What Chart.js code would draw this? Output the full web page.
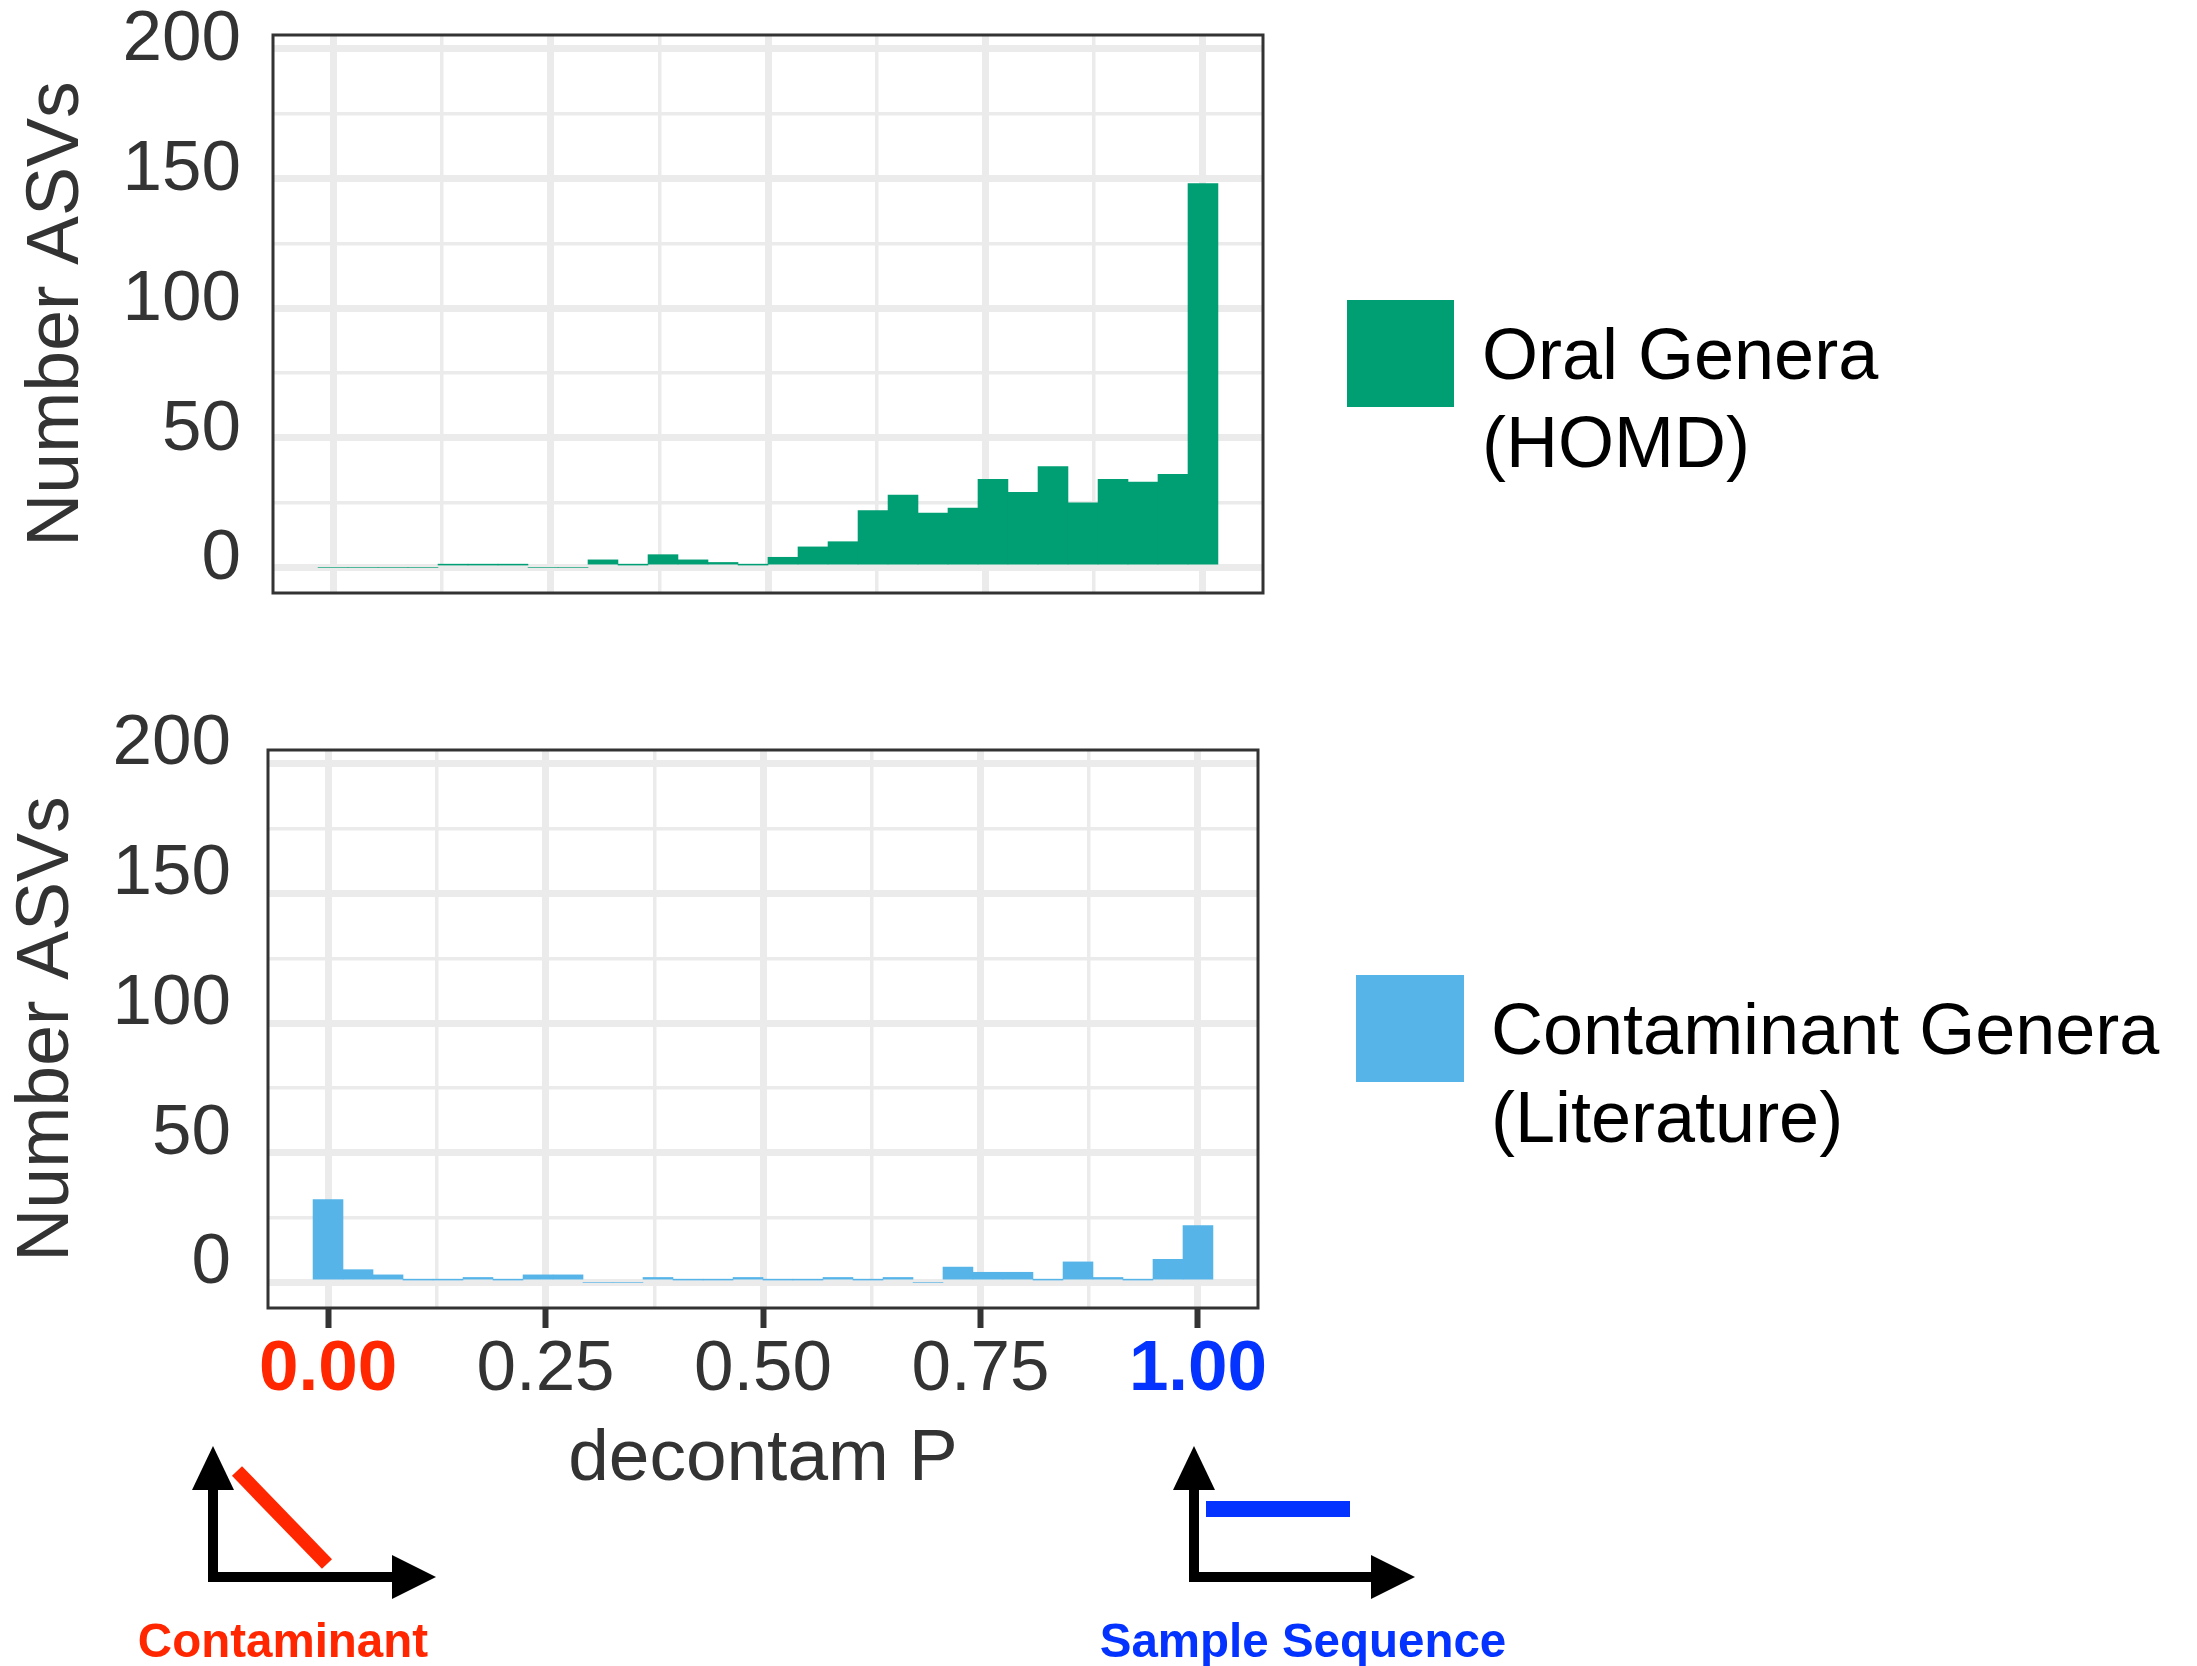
<!DOCTYPE html>
<html>
<head>
<meta charset="utf-8">
<script src="https://cdn.jsdelivr.net/npm/chart.js@4.4.1/dist/chart.umd.min.js"></script>
<style>
  html, body { margin: 0; padding: 0; background: #fff; }
  #page { position: relative; width: 2197px; height: 1666px; overflow: hidden; font-family: 'Liberation Sans', Arial, sans-serif; }
  canvas { position: absolute; left: 0; }
  #oral { top: 0; }
  #contam { top: 660px; }
  svg { position: absolute; left: 0; top: 0; }
</style>
</head>
<body>
<div id="page">
  <canvas id="oral" width="1320" height="660"></canvas>
  <canvas id="contam" width="1320" height="860"></canvas>
  <svg width="2197" height="1666" font-family="'Liberation Sans', Arial, sans-serif">
    <!-- legend -->
    <rect x="1347" y="300" width="107" height="107" fill="#009E73"/>
    <text x="1482" y="379" font-size="72" fill="#000">Oral Genera</text>
    <text x="1482" y="467" font-size="72" fill="#000">(HOMD)</text>
    <rect x="1356" y="975" width="108" height="107" fill="#56B4E9"/>
    <text x="1491" y="1054" font-size="72" fill="#000">Contaminant Genera</text>
    <text x="1491" y="1142" font-size="72" fill="#000">(Literature)</text>

    <!-- contaminant / sample sequence icons -->
    <g stroke="#000" stroke-width="10">
      <line x1="213" y1="1582" x2="213" y2="1484"/>
      <line x1="208" y1="1577" x2="396" y2="1577"/>
      <line x1="1194" y1="1582" x2="1194" y2="1484"/>
      <line x1="1189" y1="1577" x2="1376" y2="1577"/>
    </g>
    <g fill="#000">
      <polygon points="213,1446 192,1490 234,1490"/>
      <polygon points="436,1577 392,1555 392,1599"/>
      <polygon points="1194,1446 1173,1490 1215,1490"/>
      <polygon points="1415,1577 1371,1555 1371,1599"/>
    </g>
    <line x1="237" y1="1471" x2="327" y2="1564" stroke="#FF2600" stroke-width="14"/>
    <line x1="1206" y1="1509" x2="1350" y2="1509" stroke="#0433FF" stroke-width="16"/>
    <text x="283" y="1657" font-size="47.5" font-weight="bold" fill="#FF2600" text-anchor="middle">Contaminant</text>
    <text x="1303" y="1657" font-size="47.5" font-weight="bold" fill="#0433FF" text-anchor="middle">Sample Sequence</text>
  </svg>
</div>
<script>
// histogram bins (decontam P, bin centres)
const binCenters = [0, 0.0345, 0.069, 0.1034, 0.1379, 0.1724, 0.2069, 0.2414, 0.2759, 0.3103,
  0.3448, 0.3793, 0.4138, 0.4483, 0.4828, 0.5172, 0.5517, 0.5862, 0.6207, 0.6552,
  0.6897, 0.7241, 0.7586, 0.7931, 0.8276, 0.8621, 0.8966, 0.931, 0.9655, 1];
const oralCounts = [0, 0, 0, 0, 1, 1, 1, 0, 0, 3,
  1, 5, 3, 2, 1, 4, 8, 10, 22, 28,
  21, 23, 34, 29, 39, 25, 34, 33, 36, 148];
const contamCounts = [32, 5, 3, 1, 1, 2, 1, 3, 3, 0,
  0, 2, 1, 1, 2, 1, 1, 2, 1, 2,
  0, 6, 4, 4, 1, 8, 2, 1, 9, 22];

const xTickValues = [0, 0.125, 0.25, 0.375, 0.5, 0.625, 0.75, 0.875, 1];
const xTickLabels = ['0.00', '', '0.25', '', '0.50', '', '0.75', '', '1.00'];
const yTickValues = [0, 25, 50, 75, 100, 125, 150, 175, 200];
const yTickLabels = ['0', '', '50', '', '100', '', '150', '', '200'];

const RED = '#FF2600';
const BLUE = '#0433FF';
const INK = '#333333';
const GRID = '#EBEBEB';

Chart.defaults.font.family = "'Liberation Sans', Arial, sans-serif";
Chart.defaults.color = INK;
Chart.defaults.animation = false;

// ggplot-like panel border drawn on top of the bars
const panelBorder = {
  id: 'panelBorder',
  afterDatasetsDraw(chart) {
    const { ctx, chartArea: a } = chart;
    ctx.save();
    ctx.strokeStyle = INK;
    ctx.lineWidth = 3;
    ctx.strokeRect(a.left, a.top, a.right - a.left, a.bottom - a.top);
    ctx.restore();
  }
};

const gridWidth = c => (c.index % 2 === 0 ? 7 : 3.5);

function histogram(id, counts, color, o) {
  return new Chart(document.getElementById(id), {
    type: 'bar',
    data: {
      datasets: [{
        data: binCenters.map((x, i) => ({ x: x, y: counts[i] })),
        backgroundColor: color,
        borderWidth: 0,
        barPercentage: 1,
        categoryPercentage: 1
      }]
    },
    options: {
      responsive: false,
      maintainAspectRatio: false,
      layout: { padding: { top: o.padTop, right: o.padRight, left: 0, bottom: 0 } },
      plugins: { legend: { display: false }, tooltip: { enabled: false } },
      scales: {
        x: {
          type: 'linear',
          offset: false,
          min: -0.069,
          max: 1.069,
          afterBuildTicks: s => { s.ticks = xTickValues.map(v => ({ value: v })); },
          afterFit: s => { s.height = o.xHeight; s.paddingLeft = 0; s.paddingRight = 0; },
          border: { display: false },
          grid: {
            offset: false,
            color: GRID,
            lineWidth: gridWidth,
            drawTicks: o.showX,
            tickLength: 20,
            tickWidth: 6,
            tickColor: c => (c.index % 2 === 0 ? INK : 'rgba(0,0,0,0)')
          },
          ticks: {
            display: o.showX,
            padding: 0,
            autoSkip: false,
            maxRotation: 0,
            callback: (v, i) => xTickLabels[i],
            color: c => (c.index === 0 ? RED : c.index === xTickValues.length - 1 ? BLUE : INK),
            font: c => ({ size: 71, weight: (c.index === 0 || c.index === xTickValues.length - 1) ? 'bold' : 'normal' })
          },
          title: {
            display: o.showX,
            text: 'decontam P',
            color: INK,
            font: { size: 73 },
            padding: { top: 0, bottom: 16 }
          }
        },
        y: {
          min: -9.77,
          max: 205.3,
          afterBuildTicks: s => { s.ticks = yTickValues.map(v => ({ value: v })); },
          afterFit: s => { s.width = o.yWidth; s.paddingTop = 0; s.paddingBottom = 0; },
          border: { display: false },
          grid: { color: GRID, lineWidth: gridWidth, drawTicks: false },
          ticks: {
            padding: o.yLabelPad,
            labelOffset: o.yLabelOffset,
            autoSkip: false,
            callback: (v, i) => yTickLabels[i],
            color: INK,
            font: { size: 71 }
          },
          title: {
            display: true,
            text: 'Number ASVs',
            color: INK,
            font: { size: 73.5 },
            padding: { top: o.yTitlePad, bottom: 0 }
          }
        }
      }
    },
    plugins: [panelBorder]
  });
}

histogram('oral', oralCounts, '#009E73', {
  padTop: 35, padRight: 57, xHeight: 67, showX: false,
  yWidth: 273, yLabelPad: 32, yLabelOffset: -8, yTitlePad: 14
});

histogram('contam', contamCounts, '#56B4E9', {
  padTop: 90, padRight: 62, xHeight: 212, showX: true,
  yWidth: 268, yLabelPad: 37, yLabelOffset: -19, yTitlePad: 4
});
</script>
</body>
</html>
